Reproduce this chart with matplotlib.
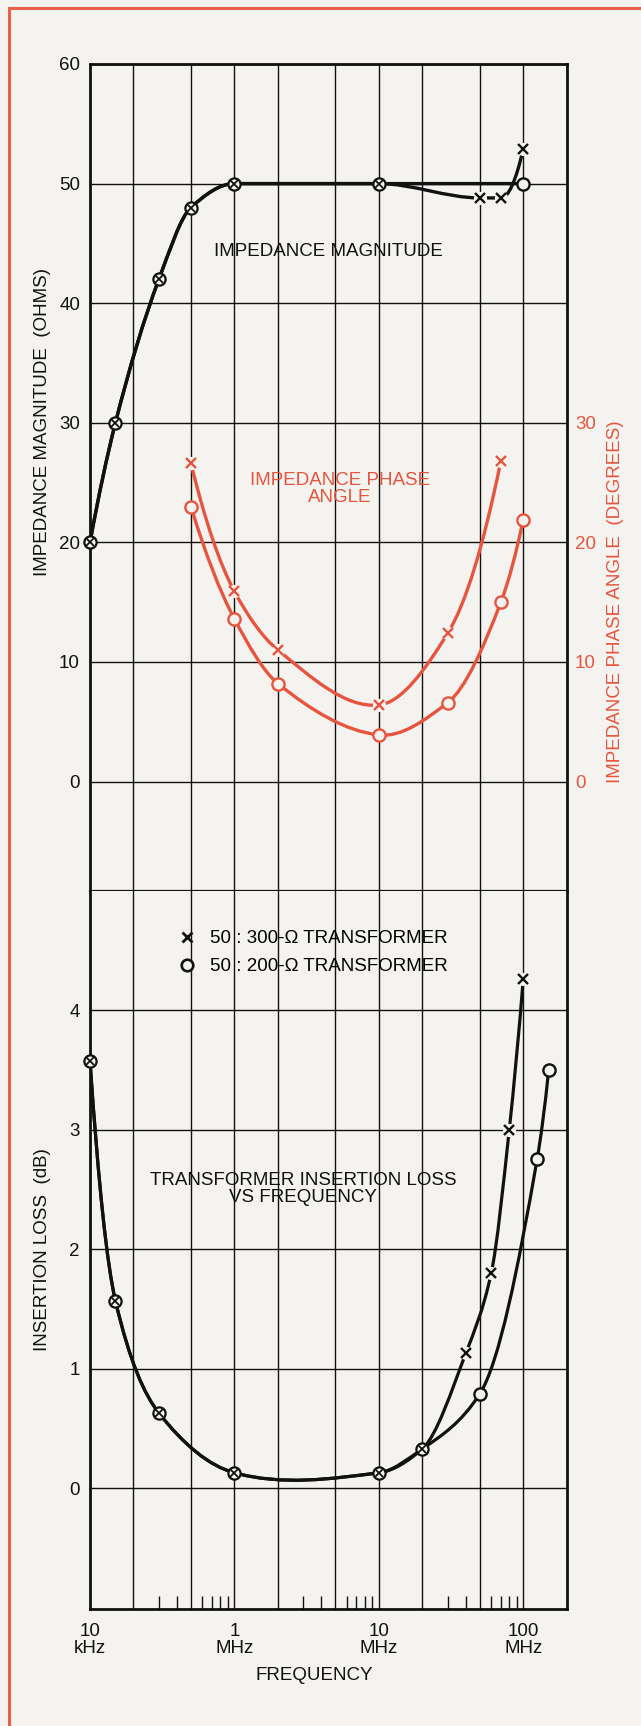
import numpy as np
import matplotlib
matplotlib.use("Agg")
import matplotlib.pyplot as plt
from matplotlib.path import Path
from matplotlib.patches import PathPatch
from matplotlib.lines import Line2D
from matplotlib.ticker import FixedLocator, NullLocator, NullFormatter, FuncFormatter

plt.rcParams['font.family'] = ['Liberation Sans', 'DejaVu Sans']

# impedance magnitude (ohms) vs frequency (Hz)
mag_freq_300 = [1e5, 1.5e5, 3e5, 5e5, 1e6, 1e7, 5e7, 7e7, 1e8]
mag_ohms_300 = [20, 30, 42, 48, 50, 50, 48.8, 48.8, 52.9]
mag_freq_200 = [1e5, 1.5e5, 3e5, 5e5, 1e6, 1e7, 1e8]
mag_ohms_200 = [20, 30, 42, 48, 50, 50, 50]

# impedance phase angle (degrees)
phase_freq_300 = [5e5, 1e6, 2e6, 1e7, 3e7, 7e7]
phase_deg_300 = [26.6, 15.9, 11.0, 6.4, 12.4, 26.8]
phase_freq_200 = [5e5, 1e6, 2e6, 1e7, 3e7, 7e7, 1e8]
phase_deg_200 = [23.0, 13.6, 8.2, 3.9, 6.6, 15.0, 21.9]

# insertion loss (dB)
loss_freq_300 = [1e5, 1.5e5, 3e5, 1e6, 1e7, 2e7, 4e7, 6e7, 8e7, 1e8]
loss_db_300 = [3.58, 1.57, 0.63, 0.13, 0.13, 0.33, 1.13, 1.80, 3.0, 4.26]
loss_freq_200 = [1e5, 1.5e5, 3e5, 1e6, 1e7, 2e7, 5e7, 1.25e8, 1.5e8]
loss_db_200 = [3.58, 1.57, 0.63, 0.13, 0.13, 0.33, 0.79, 2.76, 3.5]

grid_freqs = [2e5, 5e5, 1e6, 2e6, 5e6, 1e7, 2e7, 5e7, 1e8]
minor_freqs = [m * d for d in (1e5, 1e6, 1e7) for m in (3, 4, 6, 7, 8, 9)]
freq_labels = {1e5: '10\nkHz', 1e6: '1\nMHz', 1e7: '10\nMHz', 1e8: '100\nMHz'}
legend_labels = ['50 : 300-\u03a9 TRANSFORMER', '50 : 200-\u03a9 TRANSFORMER']

W, H = 641, 1726
BG = '#f4f3ef'
INK = '#111111'
RED = '#e8553f'
FS = 13.5


def fig_xy(px, py):
    return px / W, 1 - py / H


def px_rect(x0, y0, x1, y1):
    return [x0 / W, 1 - y1 / H, (x1 - x0) / W, (y1 - y0) / H]


def smooth_path(freq, vals, monotone=False):
    # cubic Hermite curve through the points (log-frequency space) as Bezier segments
    x = np.log10(freq)
    y = np.asarray(vals, float)
    h = np.diff(x)
    d = np.diff(y) / h
    m = np.empty_like(y)
    for k in range(1, len(y) - 1):
        if d[k - 1] * d[k] > 0:
            # weighted harmonic mean keeps rising/falling stretches free of wiggles
            w1 = 2 * h[k] + h[k - 1]
            w2 = h[k] + 2 * h[k - 1]
            m[k] = (w1 + w2) / (w1 / d[k - 1] + w2 / d[k])
        elif monotone:
            m[k] = 0
        else:
            m[k] = (y[k + 1] - y[k - 1]) / (x[k + 1] - x[k - 1])
    m[0] = 2 * d[0] - m[1] if len(y) > 2 else d[0]
    m[-1] = 2 * d[-1] - m[-2] if len(y) > 2 else d[-1]
    if m[0] * d[0] <= 0:
        m[0] = 0
    if m[-1] * d[-1] <= 0:
        m[-1] = 0
    verts = [(x[0], y[0])]
    for i in range(len(x) - 1):
        verts.append((x[i] + h[i] / 3, y[i] + m[i] * h[i] / 3))
        verts.append((x[i + 1] - h[i] / 3, y[i + 1] - m[i + 1] * h[i] / 3))
        verts.append((x[i + 1], y[i + 1]))
    verts = np.array(verts)
    verts[:, 0] = 10 ** verts[:, 0]
    codes = [Path.MOVETO] + [Path.CURVE4] * (len(verts) - 1)
    return Path(verts, codes)


def draw_pair(ax, f3, v3, f2, v2, color, lw, monotone=False):
    for f, v in ((f3, v3), (f2, v2)):
        ax.add_patch(PathPatch(smooth_path(f, v, monotone), fill=False,
                               edgecolor=color, lw=lw, zorder=3,
                               capstyle='butt', joinstyle='round'))
    both = set(zip(f3, v3)) & set(zip(f2, v2))
    only3 = [p for p in zip(f3, v3) if p not in both]
    only2 = [p for p in zip(f2, v2) if p not in both]
    if only3:
        fx, vx = zip(*only3)
        ax.plot(fx, vx, ls='none', marker='o', ms=9.5, mfc=BG, mec='none',
                zorder=4, clip_on=False)
        ax.plot(fx, vx, ls='none', marker='x', ms=7.5, mew=1.7, color=color,
                zorder=5, clip_on=False)
    if only2:
        fo, vo = zip(*only2)
        ax.plot(fo, vo, ls='none', marker='o', ms=8.8, mfc=BG, mec=color,
                mew=1.7, zorder=5, clip_on=False)
    if both:
        fb, vb = zip(*sorted(both))
        ax.plot(fb, vb, ls='none', marker='o', ms=8.8, mfc=BG, mec=color,
                mew=1.6, zorder=5, clip_on=False)
        ax.plot(fb, vb, ls='none', marker='x', ms=5.2, mew=1.3, color=color,
                zorder=6, clip_on=False)


fig = plt.figure(figsize=(W / 100, H / 100), dpi=100, facecolor=BG)

ax1 = fig.add_axes(px_rect(90, 64, 566.7, 891))
ax2 = fig.add_axes(px_rect(90, 891, 566.7, 1609))

for ax in (ax1, ax2):
    ax.set_facecolor(BG)
    ax.set_xscale('log')
    ax.set_xlim(1e5, 2e8)
    ax.grid(True, color=INK, lw=1.0)
    ax.set_axisbelow(True)
    ax.tick_params(axis='y', length=0, pad=7.2, labelsize=FS, labelcolor=INK)
    for side in ('left', 'right', 'top', 'bottom'):
        ax.spines[side].set_linewidth(2.0)
        ax.spines[side].set_color(INK)

# top panel: impedance magnitude + phase
ax1.set_ylim(-9.15, 60)
ax1.set_yticks(range(0, 61, 10))
ax1.xaxis.set_major_locator(FixedLocator(grid_freqs))
ax1.xaxis.set_major_formatter(NullFormatter())
ax1.xaxis.set_minor_locator(NullLocator())
ax1.tick_params(axis='x', length=0)
ax1.spines['bottom'].set_linewidth(1.6)

draw_pair(ax1, mag_freq_300, mag_ohms_300, mag_freq_200, mag_ohms_200,
          INK, 2.4, monotone=True)

axr = ax1.twinx()
axr.set_ylim(ax1.get_ylim())
axr.set_yticks(range(0, 31, 10))
axr.tick_params(axis='y', length=0, pad=6, labelsize=FS, labelcolor=RED)
for side in axr.spines:
    axr.spines[side].set_visible(False)
draw_pair(axr, phase_freq_300, phase_deg_300, phase_freq_200, phase_deg_200,
          RED, 2.4)

# bottom panel: insertion loss
ax2.set_ylim(-1.01, 5)
ax2.set_yticks(range(0, 5))
ax2.spines['top'].set_visible(False)
major = sorted(set(grid_freqs) | set(freq_labels))
ax2.xaxis.set_major_locator(FixedLocator(major))
ax2.xaxis.set_major_formatter(FuncFormatter(lambda v, pos: freq_labels.get(v, '')))
ax2.xaxis.set_minor_locator(FixedLocator(minor_freqs))
ax2.xaxis.set_minor_formatter(NullFormatter())
ax2.tick_params(axis='x', which='major', length=0, pad=10, labelsize=FS,
                labelcolor=INK)
ax2.tick_params(axis='x', which='minor', direction='in', length=9.4, width=1.0,
                color=INK)
plt.setp(ax2.get_xticklabels(), linespacing=1.0)

draw_pair(ax2, loss_freq_300, loss_db_300, loss_freq_200, loss_db_200,
          INK, 2.3)

handles = [Line2D([], [], ls='none', marker='x', ms=6.5, mew=2.0, color=INK),
           Line2D([], [], ls='none', marker='o', ms=8.3, mew=1.9, mfc=BG, mec=INK)]
ax2.legend(handles, legend_labels, loc='upper left',
           bbox_to_anchor=fig_xy(178, 930), bbox_transform=fig.transFigure,
           frameon=False, fontsize=FS, handlelength=1.0, handletextpad=0.73,
           borderpad=0, borderaxespad=0, labelspacing=0.58)

# annotations and axis titles
fig.text(*fig_xy(328.5, 242.7), 'IMPEDANCE MAGNITUDE', ha='center', va='top',
         fontsize=FS, color=INK)
fig.text(*fig_xy(340, 471.7), 'IMPEDANCE PHASE\nANGLE', ha='center', va='top',
         fontsize=FS, color=RED, linespacing=1.05)
fig.text(*fig_xy(303, 1171.7), 'TRANSFORMER INSERTION LOSS\nVS FREQUENCY',
         ha='center', va='top', fontsize=FS, color=INK, linespacing=1.05)
fig.text(*fig_xy(314, 1666.7), 'FREQUENCY', ha='center', va='top',
         fontsize=FS, color=INK)
fig.text(*fig_xy(42.5, 422), 'IMPEDANCE MAGNITUDE  (OHMS)', rotation=90,
         ha='center', va='center', fontsize=FS, color=INK)
fig.text(*fig_xy(42.5, 1250), 'INSERTION LOSS  (dB)', rotation=90,
         ha='center', va='center', fontsize=FS, color=INK)
fig.text(*fig_xy(615, 602), 'IMPEDANCE PHASE ANGLE  (DEGREES)', rotation=90,
         ha='center', va='center', fontsize=FS, color=RED)

# page border (top and left edges)
fig.add_artist(Line2D([9 / W, 9 / W], [0, 1 - 8.5 / H], color='#e8604a', lw=2.2,
                      transform=fig.transFigure))
fig.add_artist(Line2D([9 / W, 1], [1 - 8.5 / H, 1 - 8.5 / H], color='#e8604a',
                      lw=2.2, transform=fig.transFigure))

fig.savefig('out.png', dpi=100, facecolor=BG)
